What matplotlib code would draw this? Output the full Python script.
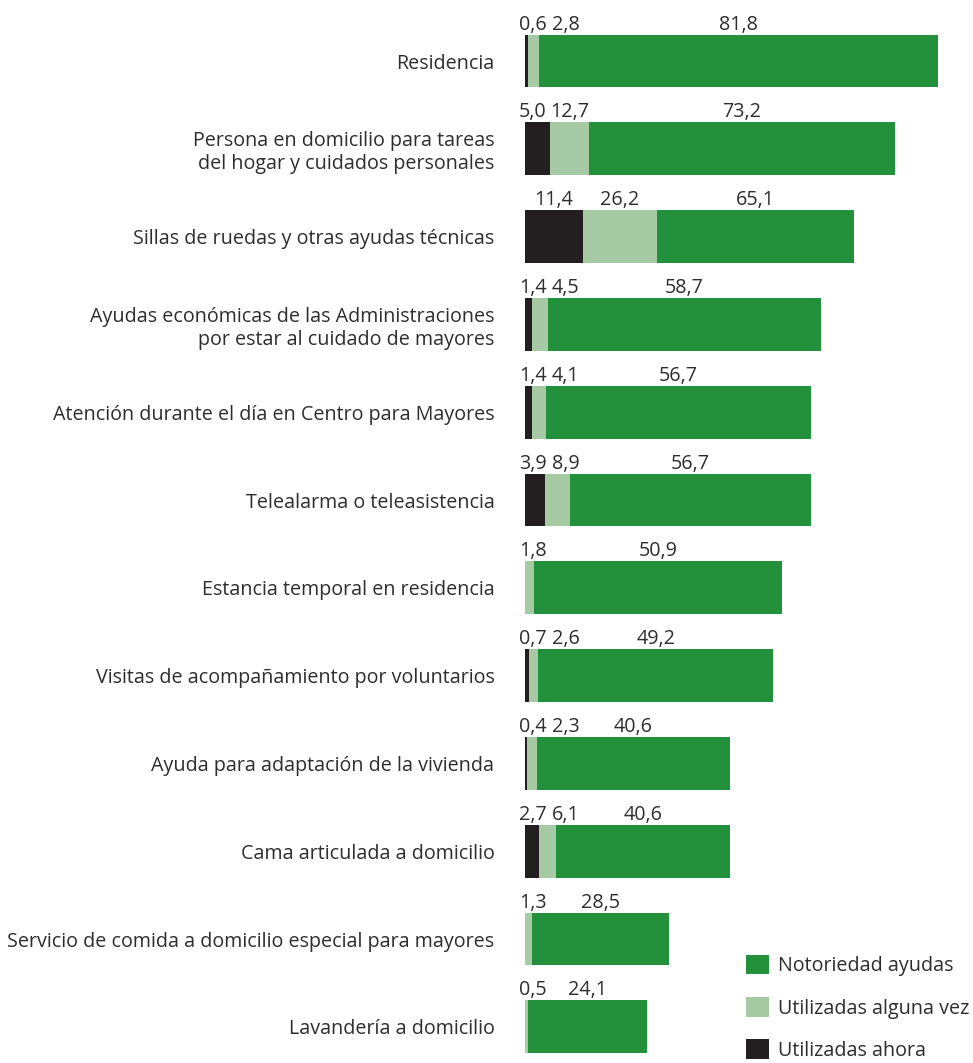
import matplotlib
matplotlib.use("Agg")
import matplotlib.pyplot as plt
from matplotlib.patches import Patch

categories = [
    "Residencia",
    "Persona en domicilio para tareas\ndel hogar y cuidados personales",
    "Sillas de ruedas y otras ayudas técnicas",
    "Ayudas económicas de las Administraciones\npor estar al cuidado de mayores",
    "Atención durante el día en Centro para Mayores",
    "Telealarma o teleasistencia",
    "Estancia temporal en residencia",
    "Visitas de acompañamiento por voluntarios",
    "Ayuda para adaptación de la vivienda",
    "Cama articulada a domicilio",
    "Servicio de comida a domicilio especial para mayores",
    "Lavandería a domicilio",
]
notoriedad = [81.8, 73.2, 65.1, 58.7, 56.7, 56.7, 50.9, 49.2, 40.6, 40.6, 28.5, 24.1]
alguna_vez = [2.8, 12.7, 26.2, 4.5, 4.1, 8.9, 1.8, 2.6, 2.3, 6.1, 1.3, 0.5]
ahora = [0.6, 5.0, 11.4, 1.4, 1.4, 3.9, None, 0.7, 0.4, 2.7, None, None]

series_names = ["Notoriedad ayudas", "Utilizadas alguna vez", "Utilizadas ahora"]
c_green = "#23903b"
c_light = "#a6cba4"
c_black = "#231f20"
txt = "#2e2e2e"

plt.rcParams["font.family"] = ["Open Sans", "DejaVu Sans"]

fig = plt.figure(figsize=(9.73, 10.63), dpi=100)
ax = fig.add_axes([525 / 973, 0.001, 448 / 973, 1053.6 / 1063])

y = list(range(len(categories)))
h = 0.6
ax.barh(y, notoriedad, height=h, color=c_green, zorder=1)
ax.barh(y, alguna_vez, height=h, color=c_light, zorder=2)
for i, v in enumerate(ahora):
    if v is not None:
        ax.barh(i, v, height=h, color=c_black, zorder=3)

ax.set_xlim(0, 448 / 5.05)
ax.set_ylim(len(categories) - 0.6, -0.6)

fs = 14.2
fw = "normal"


def fmt(v):
    return f"{v:.1f}".replace(".", ",")


def lab(x, i, v):
    ax.annotate(fmt(v), xy=(x, i - h / 2), xytext=(0, 5), textcoords="offset pixels",
                ha="center", va="baseline", fontsize=fs, color=txt, fontweight=fw)


for i in y:
    b = ahora[i]
    a = alguna_vez[i]
    n = notoriedad[i]
    if b is not None:
        bx = b / 2 if b > 8 else 1.5
        lab(bx, i, b)
        ax_ = max((b + a) / 2, bx + 6.6)
    else:
        ax_ = max(a / 2, 1.6)
    lab(ax_, i, a)
    gx = max((a + n) / 2, ax_ + 8)
    lab(gx, i, n)

ax.set_yticks(y)
ax.set_yticklabels(categories, fontsize=fs, color=txt, fontweight=fw)
ax.tick_params(axis="y", length=0, pad=22)
ax.set_xticks([])
for s in ax.spines.values():
    s.set_visible(False)

handles = [Patch(facecolor=c_green), Patch(facecolor=c_light), Patch(facecolor=c_black)]
leg = fig.legend(handles, series_names, loc="upper left",
                 bbox_to_anchor=(738 / 973, 1 - 947 / 1063), frameon=False,
                 fontsize=fs, handlelength=1.15, handleheight=1.15,
                 handletextpad=0.5, labelspacing=1.05, borderaxespad=0)
for t in leg.get_texts():
    t.set_color(txt)
    t.set_fontweight(fw)

fig.savefig("out.png", dpi=100)
